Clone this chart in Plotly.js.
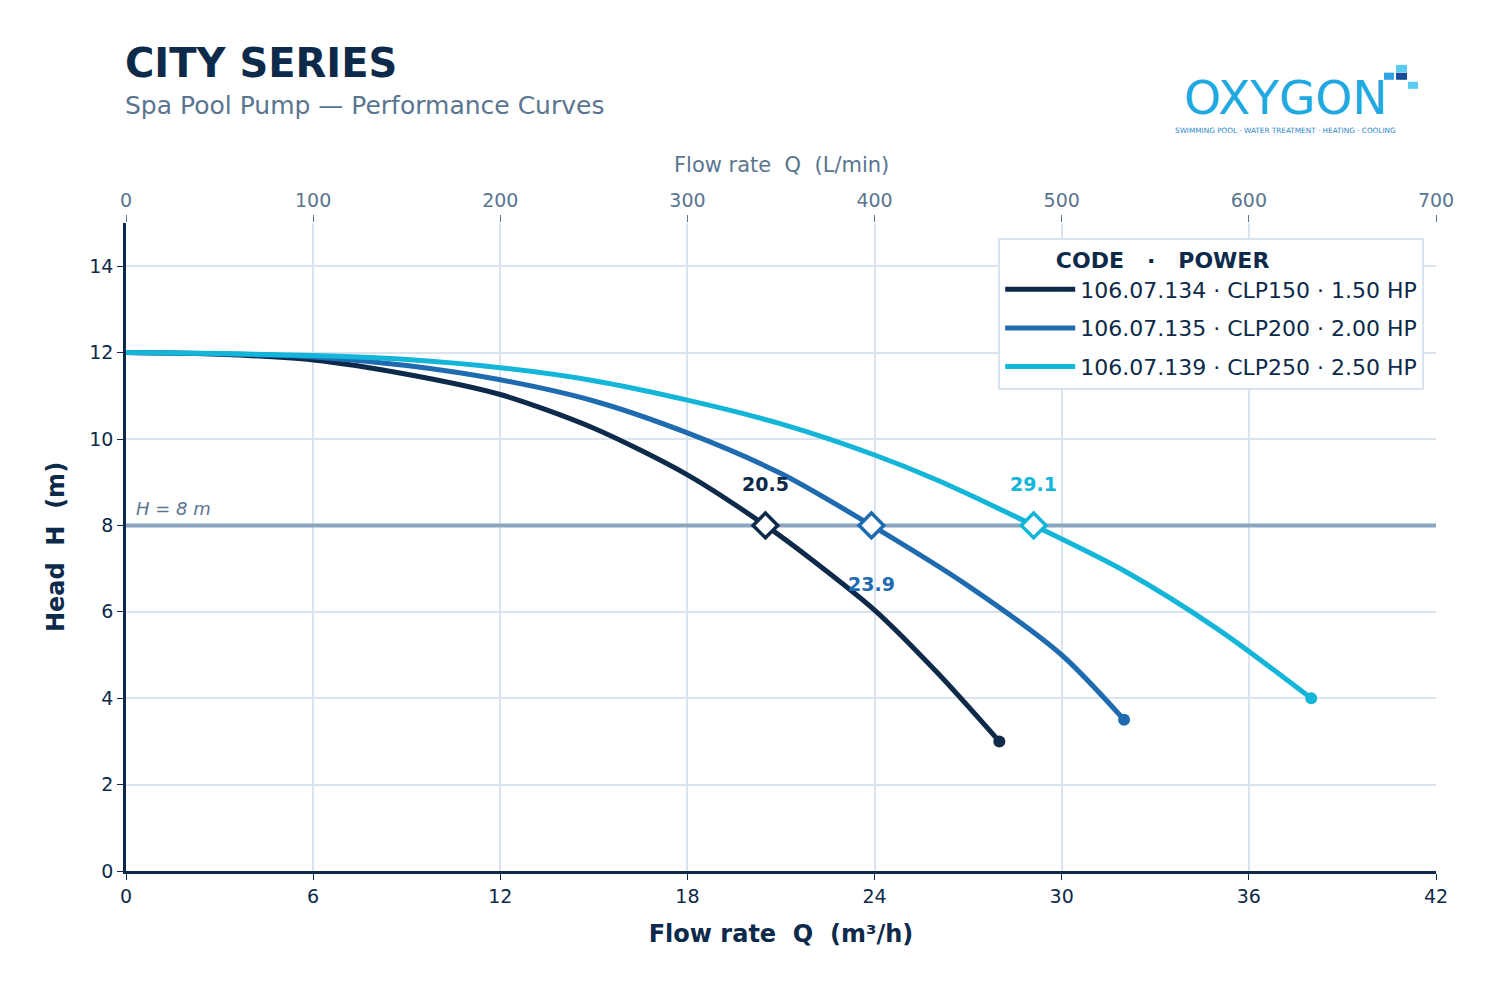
<!DOCTYPE html>
<html><head><meta charset="utf-8">
<script src="https://cdn.plot.ly/plotly-3.0.1.min.js"></script>
<style>body{margin:0;background:#fff}#plot{width:1500px;height:992px}</style>
</head><body><div id="plot"></div>
<script>
// curve samples (Q in m3/h, H in m)
var q150 = [0, 3, 6, 9, 12, 15, 18, 20.5, 22, 24, 26, 28];
var h150 = [12, 11.96, 11.83, 11.5, 11.03, 10.25, 9.17, 8, 7.2, 6.04, 4.6, 3];
var q200 = [0, 3, 6, 9, 12, 15, 18, 21, 23.9, 27, 30, 32];
var h200 = [12, 11.97, 11.9, 11.7, 11.37, 10.88, 10.14, 9.2, 8, 6.6, 5.0, 3.5];
var q250 = [0, 3, 6, 9, 12, 15, 18, 21, 24, 26, 29.1, 32, 35, 38];
var h250 = [12, 11.98, 11.93, 11.84, 11.65, 11.35, 10.9, 10.35, 9.63, 9.05, 8, 6.95, 5.6, 4];
var names = ['106.07.134 · CLP150 · 1.50 HP', '106.07.135 · CLP200 · 2.00 HP', '106.07.139 · CLP250 · 2.50 HP'];
var colors = ['#0d2a4a', '#1f6bb0', '#13b5d8'];
var dutyQ = [20.5, 23.9, 29.1];
var dutyH = 8;

var qs = [q150, q200, q250], hs = [h150, h200, h250];
// reference line H = 8 m, drawn first so curves sit on top
var data = [{x: [0, 42], y: [dutyH, dutyH], mode: 'lines', showlegend: false, hoverinfo: 'skip',
  line: {color: '#8aa6bf', width: 4}}];
for (var i = 0; i < 3; i++) {
  data.push({x: qs[i], y: hs[i], type: 'scatter', mode: 'lines', name: names[i], legendgroup: 'g' + i,
    line: {color: colors[i], width: 5, shape: 'spline', smoothing: 0.8}});
}
for (var i = 0; i < 3; i++) {
  var n = qs[i].length - 1;
  data.push({x: [qs[i][n]], y: [hs[i][n]], mode: 'markers', showlegend: false,
    marker: {color: colors[i], size: 12}});
  data.push({x: [dutyQ[i]], y: [dutyH], mode: 'markers', showlegend: false,
    marker: {color: '#fff', symbol: 'diamond', size: 19, line: {color: colors[i], width: 3.5}}});
}
// dummy trace for top axis
data.push({x: [0, 700], y: [0, 0], xaxis: 'x2', mode: 'markers', marker: {opacity: 0}, showlegend: false, hoverinfo: 'skip'});

var ann = [
  {x: 20.5, y: 8.95, text: '<b>20.5</b>', showarrow: false, font: {size: 19, color: colors[0]}},
  {x: 23.9, y: 6.65, text: '<b>23.9</b>', showarrow: false, font: {size: 19, color: colors[1]}},
  {x: 29.1, y: 8.95, text: '<b>29.1</b>', showarrow: false, font: {size: 19, color: colors[2]}},
  {x: 0.25, y: 8.4, xanchor: 'left', text: '<i>H = 8 m</i>', showarrow: false, font: {size: 18, color: '#5a7590'}},
  {xref: 'paper', yref: 'paper', x: -0.002, y: 1.247, xanchor: 'left', yanchor: 'middle', text: '<b>CITY SERIES</b>', showarrow: false, font: {size: 40, color: '#0d2a4a'}},
  {xref: 'paper', yref: 'paper', x: -0.002, y: 1.181, xanchor: 'left', yanchor: 'middle', text: 'Spa Pool Pump — Performance Curves', showarrow: false, font: {size: 25, color: '#5a7590'}},
  {xref: 'paper', yref: 'paper', x: 0.5, y: 1.0895, yanchor: 'middle', text: 'Flow rate  Q  (L/min)', showarrow: false, font: {size: 21, color: '#5a7590'}},
  {xref: 'paper', yref: 'paper', x: 0.885, y: 1.194, xanchor: 'center', yanchor: 'middle', text: 'OXYGON', showarrow: false, font: {size: 47, color: '#20a8e0', family: 'DejaVu Sans'}},
  {xref: 'paper', yref: 'paper', x: 0.885, y: 1.143, xanchor: 'center', yanchor: 'middle', text: 'SWIMMING POOL · WATER TREATMENT · HEATING · COOLING', showarrow: false, font: {size: 7.3, color: '#2c86cc'}}
];

var shapes = [
  {type: 'rect', xref: 'paper', yref: 'paper', x0: 0.9695, x1: 0.9779, y0: 1.233, y1: 1.244, fillcolor: '#5ccbf2', line: {width: 0}},
  {type: 'rect', xref: 'paper', yref: 'paper', x0: 0.9603, x1: 0.9679, y0: 1.221, y1: 1.232, fillcolor: '#2fa6e2', line: {width: 0}},
  {type: 'rect', xref: 'paper', yref: 'paper', x0: 0.9695, x1: 0.9779, y0: 1.221, y1: 1.232, fillcolor: '#154f9c', line: {width: 0}},
  {type: 'rect', xref: 'paper', yref: 'paper', x0: 0.9786, x1: 0.9863, y0: 1.207, y1: 1.218, fillcolor: '#5ccbf2', line: {width: 0}}
];

var layout = {
  width: 1500, height: 992,
  margin: {l: 126, r: 64, t: 223, b: 121},
  paper_bgcolor: '#fff', plot_bgcolor: '#fff',
  font: {family: 'DejaVu Sans', color: '#0d2a4a'},
  xaxis: {range: [0, 42], tickvals: [0, 6, 12, 18, 24, 30, 36, 42], gridcolor: '#dbe4ee', gridwidth: 2,
    showline: true, linecolor: '#0d2a4a', linewidth: 2.5, ticks: 'outside', ticklen: 6, tickcolor: '#0d2a4a',
    tickfont: {size: 19}, zeroline: false,
    title: {text: '<b>Flow rate  Q  (m³/h)</b>', font: {size: 24, color: '#0d2a4a'}, standoff: 20}},
  xaxis2: {range: [0, 700], overlaying: 'x', side: 'top', tickvals: [0, 100, 200, 300, 400, 500, 600, 700],
    showgrid: false, zeroline: false, ticks: 'outside', ticklen: 7, tickcolor: '#5a7590', tickfont: {size: 19, color: '#5a7590'}},
  yaxis: {range: [0, 15], tickvals: [0, 2, 4, 6, 8, 10, 12, 14], gridcolor: '#dbe4ee', gridwidth: 2,
    showline: true, linecolor: '#0d2a4a', linewidth: 2.5, ticks: 'outside', ticklen: 6, tickcolor: '#0d2a4a',
    tickfont: {size: 19}, zeroline: false,
    title: {text: '<b>Head  H  (m)</b>', font: {size: 24, color: '#0d2a4a'}, standoff: 18}},
  legend: {x: 0.991, xanchor: 'right', y: 0.977, yanchor: 'top', bgcolor: 'rgba(255,255,255,0.95)',
    bordercolor: '#dbe4ee', borderwidth: 2, font: {size: 22, color: '#0d2a4a'}, itemwidth: 70,
    tracegroupgap: 7,
    title: {text: '<b>       CODE   ·   POWER</b>', font: {size: 22, color: '#0d2a4a'}}},
  annotations: ann, shapes: shapes
};

Plotly.newPlot('plot', data, layout, {displayModeBar: false});
</script></body></html>
